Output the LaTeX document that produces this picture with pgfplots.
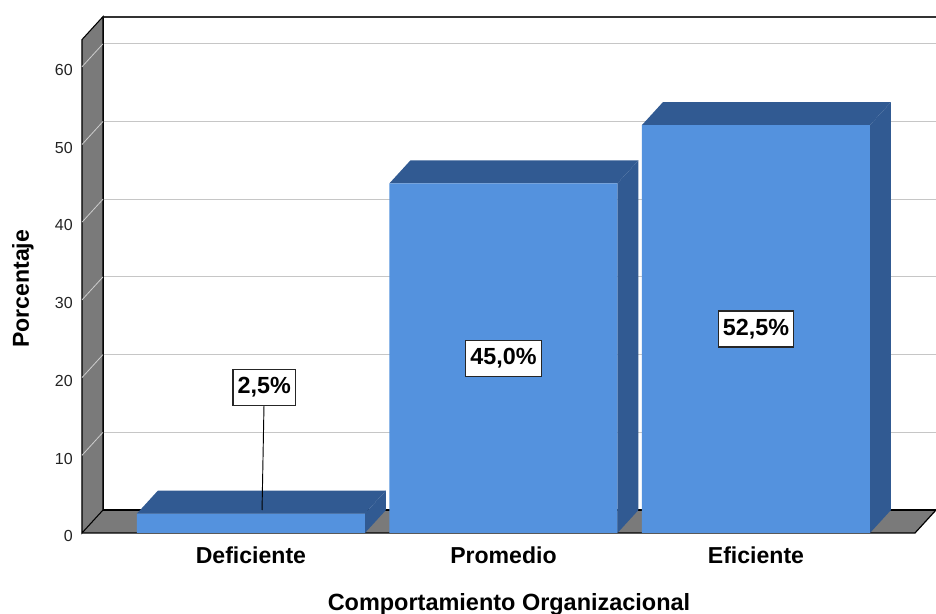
\documentclass[border=0pt]{standalone}
\usepackage{fontspec}
\setmainfont{Liberation Sans}
\usepackage{pgfplots}
\pgfplotsset{compat=1.18}
\definecolor{frontblue}{RGB}{84,146,222}
\definecolor{darkblue}{RGB}{49,90,146}
\definecolor{wallgray}{RGB}{122,122,122}
\definecolor{gridgray}{RGB}{198,198,198}
\definecolor{tickgray}{RGB}{205,205,205}
\definecolor{txt}{RGB}{35,35,35}
\begin{document}
\begin{tikzpicture}
\useasboundingbox (-61.5pt,-60.75pt) rectangle (640.5pt,399.75pt);
\begin{axis}[
  scale only axis,
  width=640.5pt, height=387.3pt,
  xmin=-0.669, xmax=2.713,
  ymin=0, ymax=66.46,
  enlargelimits=false,
  clip=false,
  axis line style={draw=none},
  tick style={draw=none},
  major tick length=0pt,
  xtick={0,1,2},
  xticklabels={Deficiente,Promedio,Eficiente},
  ytick={0,10,20,30,40,50,60},
  /pgf/number format/assume math mode=true,
  xticklabel style={anchor=north, inner sep=0pt, yshift=-10.5pt,
    font=\fontsize{17.3}{20}\selectfont\bfseries, text=black},
  yticklabel style={anchor=east, inner sep=0pt, xshift=-6.75pt, yshift=-2.4pt,
    font=\fontsize{12}{14}\selectfont, text=txt},
  xlabel={Comportamiento Organizacional},
  xlabel style={at={(axis description cs:0.5,0)}, anchor=north, inner sep=0pt,
    yshift=-45pt, font=\fontsize{17.6}{20}\selectfont\bfseries},
  ylabel={Porcentaje},
  ylabel style={at={([xshift=-39.75pt]axis description cs:0,0.473)}, anchor=base,
    inner sep=0pt, font=\fontsize{17.3}{20}\selectfont\bfseries},
]
% back wall
\addplot[fill=white, draw=none] coordinates {(-0.5858,2.96) (2.713,2.96) (2.713,66.46) (-0.5858,66.46)} -- cycle;
% gridlines on back wall
\addplot[gridgray, line width=0.9pt] coordinates {(-0.5858,12.96) (2.713,12.96)};
\addplot[gridgray, line width=0.9pt] coordinates {(-0.5858,22.96) (2.713,22.96)};
\addplot[gridgray, line width=0.9pt] coordinates {(-0.5858,32.96) (2.713,32.96)};
\addplot[gridgray, line width=0.9pt] coordinates {(-0.5858,42.96) (2.713,42.96)};
\addplot[gridgray, line width=0.9pt] coordinates {(-0.5858,52.96) (2.713,52.96)};
\addplot[gridgray, line width=0.9pt] coordinates {(-0.5858,62.96) (2.713,62.96)};
% floor
\addplot[fill=wallgray, draw=none] coordinates {(-0.669,0) (2.6298,0) (2.713,2.96) (-0.5858,2.96)} -- cycle;
% back wall border
\addplot[black, line width=0.9pt] coordinates {(2.713,2.96) (-0.5858,2.96) (-0.5858,66.46)};
\addplot[black!80, line width=1.5pt] coordinates {(-0.5858,66.46) (2.713,66.46)};
% left wall
\addplot[fill=wallgray, draw=black, line width=0.8pt] coordinates {(-0.669,0) (-0.669,63.5) (-0.5858,66.46) (-0.5858,2.96)} -- cycle;
% tick lines on left wall
\addplot[tickgray, line width=0.6pt] coordinates {(-0.669,10) (-0.5858,12.96)};
\addplot[tickgray, line width=0.6pt] coordinates {(-0.669,20) (-0.5858,22.96)};
\addplot[tickgray, line width=0.6pt] coordinates {(-0.669,30) (-0.5858,32.96)};
\addplot[tickgray, line width=0.6pt] coordinates {(-0.669,40) (-0.5858,42.96)};
\addplot[tickgray, line width=0.6pt] coordinates {(-0.669,50) (-0.5858,52.96)};
\addplot[tickgray, line width=0.6pt] coordinates {(-0.669,60) (-0.5858,62.96)};
% front floor edge
\addplot[black, line width=0.9pt] coordinates {(-0.669,0) (2.6298,0) (2.713,2.96)};
% bars: top and side faces
\addplot[fill=darkblue, draw=none] coordinates {(-0.4515,2.5) (0.4515,2.5) (0.5347,5.46) (-0.3683,5.46)} -- cycle;
\addplot[fill=darkblue, draw=none] coordinates {(0.4515,0) (0.5347,2.96) (0.5347,5.46) (0.4515,2.5)} -- cycle;
\addplot[fill=darkblue, draw=none] coordinates {(0.5485,45) (1.4515,45) (1.5347,47.96) (0.6317,47.96)} -- cycle;
\addplot[fill=darkblue, draw=none] coordinates {(1.4515,0) (1.5347,2.96) (1.5347,47.96) (1.4515,45)} -- cycle;
\addplot[fill=darkblue, draw=none] coordinates {(1.5485,52.5) (2.4515,52.5) (2.5347,55.46) (1.6317,55.46)} -- cycle;
\addplot[fill=darkblue, draw=none] coordinates {(2.4515,0) (2.5347,2.96) (2.5347,55.46) (2.4515,52.5)} -- cycle;
% bars: front faces
\addplot[ybar, bar width=0.903, fill=frontblue, draw=none] coordinates {(0,2.5) (1,45) (2,52.5)};
% leader line for small bar
\addplot[black, line width=0.7pt] coordinates {(0.053,18.7) (0.044,2.96)};
% value labels
\node[draw=black!85, line width=0.9pt, fill=white, inner xsep=3.5pt, inner ysep=6pt,
  font=\fontsize{17.5}{20}\selectfont\bfseries] at (axis cs:0.053,18.73) {2,5\%};
\node[draw=black!85, line width=0.9pt, fill=white, inner xsep=3.5pt, inner ysep=6pt,
  font=\fontsize{17.5}{20}\selectfont\bfseries] at (axis cs:1,22.5) {45,0\%};
\node[draw=black!85, line width=0.9pt, fill=white, inner xsep=3.5pt, inner ysep=6pt,
  font=\fontsize{17.5}{20}\selectfont\bfseries] at (axis cs:2,26.25) {52,5\%};
\end{axis}
\end{tikzpicture}
\end{document}
